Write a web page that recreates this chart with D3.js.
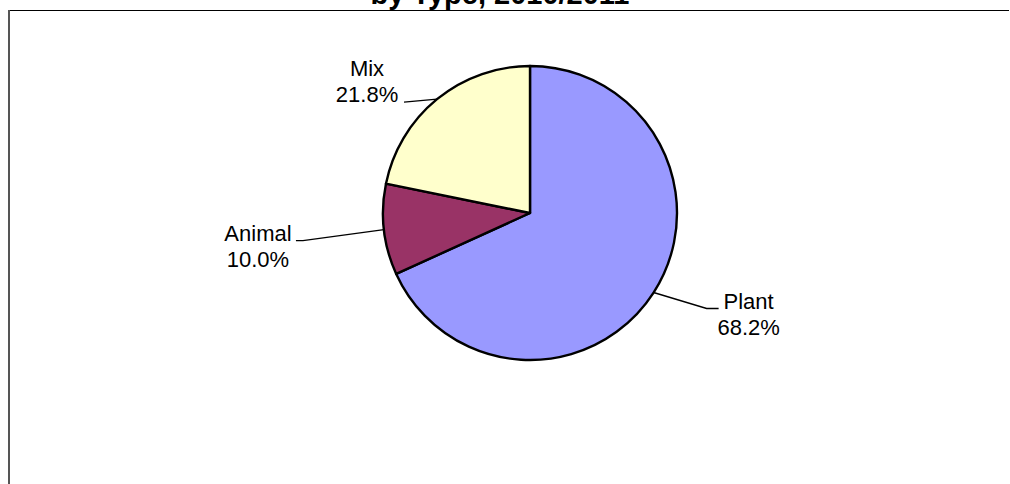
<!DOCTYPE html>
<html>
<head>
<meta charset="utf-8">
<script src="https://cdn.jsdelivr.net/npm/d3@7"></script>
<style>
  html, body { margin: 0; padding: 0; background: #fff; }
  svg { display: block; }
  text { font-family: "Liberation Sans", Arial, sans-serif; fill: #000; }
</style>
</head>
<body>
<svg id="chart" width="1010" height="484"></svg>
<script>
// ---- data ----
const categories = ["Plant", "Animal", "Mix"];
const values = [68.2, 10.0, 21.8];
const colors = ["#9999FF", "#993366", "#FFFFCC"];
const titleText = "by Type, 2010/2011";

// ---- layout ----
const W = 1010, H = 484;
const cx = 530, cy = 213, R = 147;
// label layout: elbow offset from arc edge point, tick direction, text line anchoring
const labelLayout = {
  Plant:  { elbow: [53, 16], tick: 12, lineOnRow: 0, textGap: 30 },
  Animal: { elbow: [-81, 11], tick: -7, lineOnRow: 0, textGap: -38 },
  Mix:    { elbow: [-33, 3], tick: 0, lineOnRow: 1, textGap: -37 }
};
const fontSize = 22, lineH = 26;

const svg = d3.select("#chart");

// frame
svg.append("line").attr("x1", 8).attr("x2", 1009).attr("y1", 10.5).attr("y2", 10.5)
  .attr("stroke", "#000").attr("stroke-width", 1);
svg.append("line").attr("x1", 9).attr("x2", 9).attr("y1", 10).attr("y2", H)
  .attr("stroke", "#555").attr("stroke-width", 2);

// title (top is cut off in the reference)
svg.append("text").attr("x", 500).attr("y", 4).attr("text-anchor", "middle")
  .style("font-size", "29px").style("font-weight", "bold").text(titleText);

const data = categories.map((c, i) => ({ name: c, value: values[i], color: colors[i] }));
const pie = d3.pie().sort(null).value(d => d.value);
const arcs = pie(data);
const arc = d3.arc().innerRadius(0).outerRadius(R);

const g = svg.append("g").attr("transform", `translate(${cx},${cy})`);
g.selectAll("path.slice").data(arcs).enter().append("path")
  .attr("class", "slice")
  .attr("d", arc)
  .attr("fill", d => d.data.color)
  .attr("stroke", "#000").attr("stroke-width", 2.4).attr("stroke-linejoin", "round");

// labels
arcs.forEach(a => {
  const L = labelLayout[a.data.name];
  const mid = (a.startAngle + a.endAngle) / 2;
  const ex = R * Math.sin(mid), ey = -R * Math.cos(mid);
  const bx = ex + L.elbow[0], by = ey + L.elbow[1];
  const tx = bx + L.tick;
  g.append("path")
    .attr("d", d3.line()([[ex, ey], [bx, by], [tx, by]]))
    .attr("fill", "none").attr("stroke", "#000").attr("stroke-width", 1.4);
  const textX = tx + L.textGap;
  const firstBase = by - L.lineOnRow * lineH;
  const pct = d3.format(".1f")(a.data.value) + "%";
  const t = g.append("text").attr("text-anchor", "middle").style("font-size", fontSize + "px");
  t.append("tspan").attr("x", textX).attr("y", firstBase).text(a.data.name);
  t.append("tspan").attr("x", textX).attr("y", firstBase + lineH).text(pct);
});
</script>
</body>
</html>
